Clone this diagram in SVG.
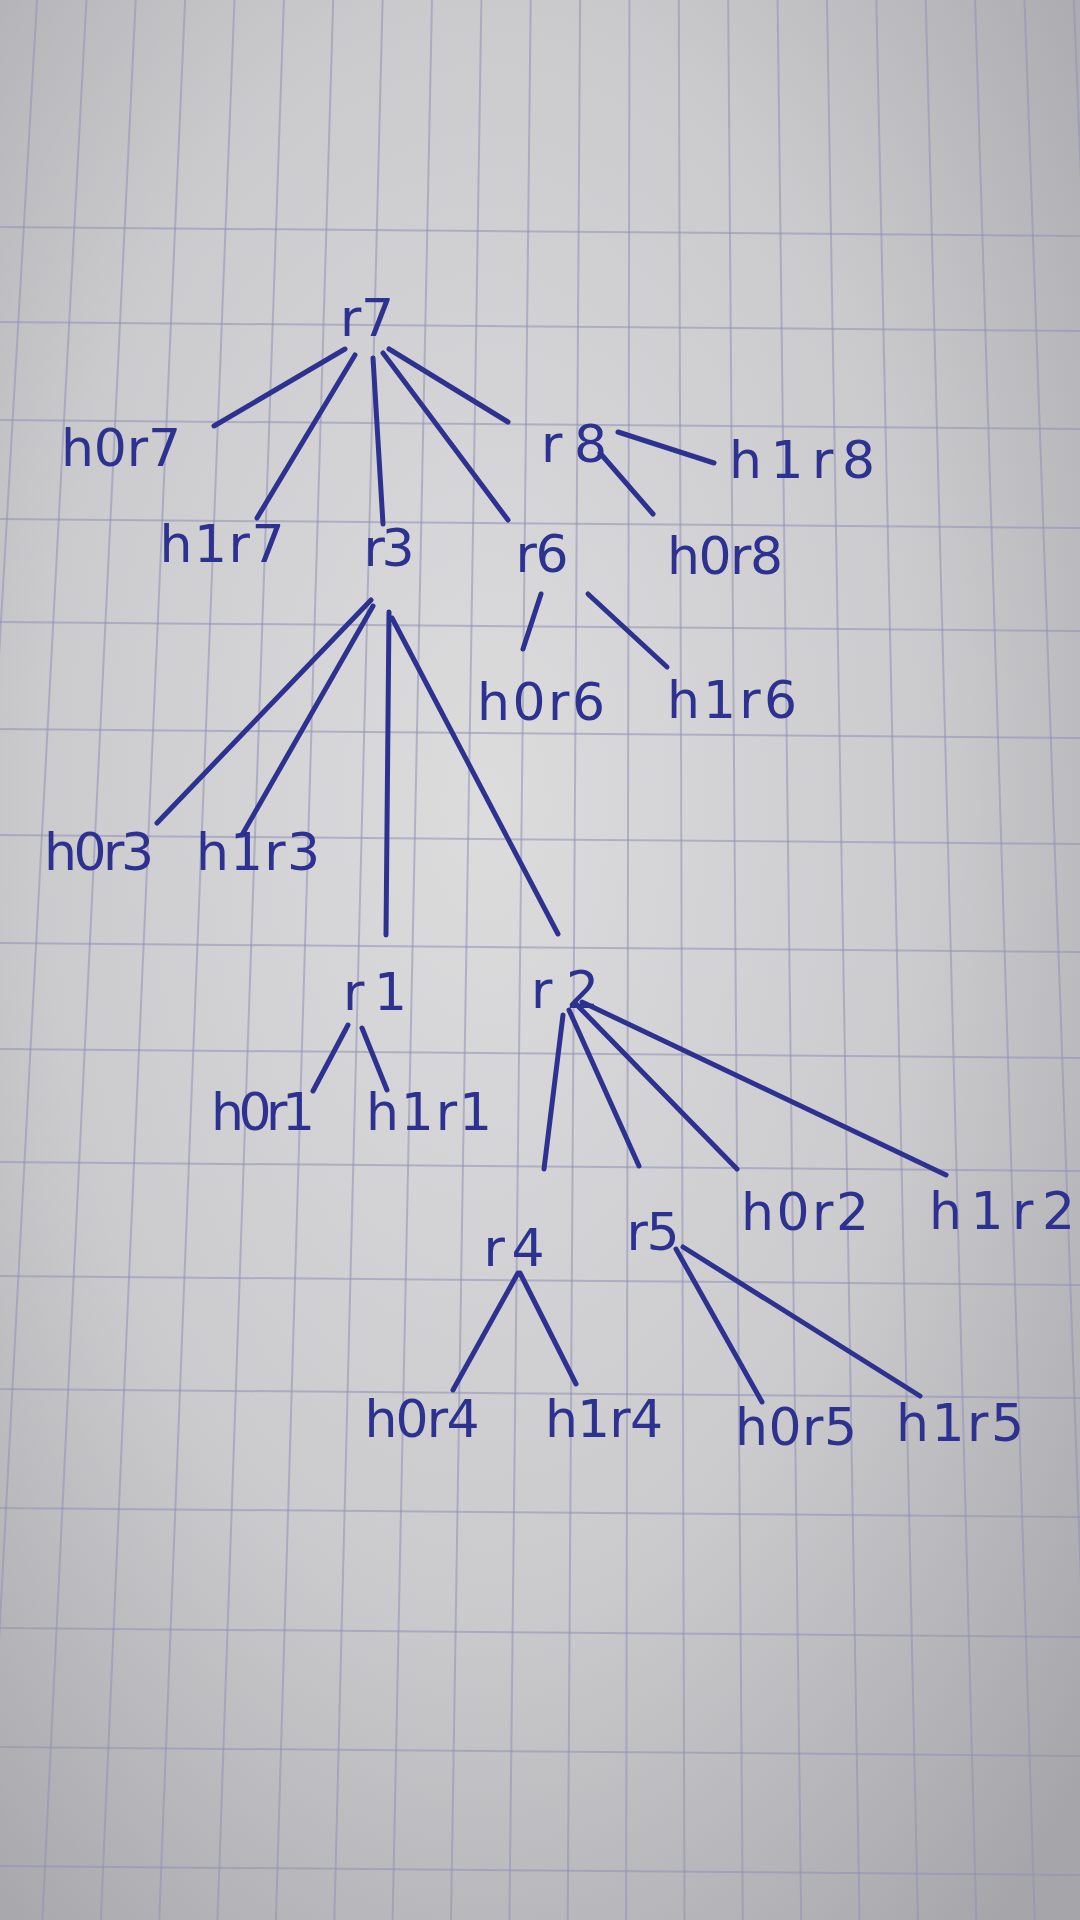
<svg xmlns="http://www.w3.org/2000/svg" width="1080" height="1920" viewBox="0 0 1080 1920">
<defs>
<radialGradient id="paper" cx="0.45" cy="0.42" r="0.75">
<stop offset="0" stop-color="#dcdcdd"/>
<stop offset="0.55" stop-color="#cbcbce"/>
<stop offset="1" stop-color="#a6a6aa"/>
</radialGradient>
<style>
.grid line{stroke:#8f8fb4;stroke-width:2;stroke-opacity:0.55}
.edge{stroke:#2d3290;stroke-width:5;stroke-linecap:round;fill:none}
.lbl{font-family:"DejaVu Sans","Liberation Sans",sans-serif;font-size:52px;fill:#2d3290;text-anchor:middle}
</style>
</defs>
<g id="background">
<rect x="0" y="0" width="1080" height="1920" fill="url(#paper)"/>
<g class="grid">
<line x1="-12.4" y1="0" x2="-132.7" y2="1920"/>
<line x1="37" y1="0" x2="-74.3" y2="1920"/>
<line x1="86.4" y1="0" x2="-15.9" y2="1920"/>
<line x1="135.7" y1="0" x2="42.4" y2="1920"/>
<line x1="185.1" y1="0" x2="100.8" y2="1920"/>
<line x1="234.5" y1="0" x2="159.2" y2="1920"/>
<line x1="283.9" y1="0" x2="217.5" y2="1920"/>
<line x1="333.2" y1="0" x2="275.9" y2="1920"/>
<line x1="382.6" y1="0" x2="334.3" y2="1920"/>
<line x1="432" y1="0" x2="392.6" y2="1920"/>
<line x1="481.4" y1="0" x2="451" y2="1920"/>
<line x1="530.7" y1="0" x2="509.4" y2="1920"/>
<line x1="580.1" y1="0" x2="567.7" y2="1920"/>
<line x1="629.5" y1="0" x2="626.1" y2="1920"/>
<line x1="678.8" y1="0" x2="684.5" y2="1920"/>
<line x1="728.2" y1="0" x2="742.8" y2="1920"/>
<line x1="777.6" y1="0" x2="801.2" y2="1920"/>
<line x1="827" y1="0" x2="859.6" y2="1920"/>
<line x1="876.3" y1="0" x2="917.9" y2="1920"/>
<line x1="925.7" y1="0" x2="976.3" y2="1920"/>
<line x1="975.1" y1="0" x2="1034.7" y2="1920"/>
<line x1="1024.5" y1="0" x2="1093" y2="1920"/>
<line x1="1073.8" y1="0" x2="1151.4" y2="1920"/>
<line x1="0" y1="227" x2="1080" y2="236"/>
<line x1="0" y1="322" x2="1080" y2="331"/>
<line x1="0" y1="420" x2="1080" y2="429"/>
<line x1="0" y1="519" x2="1080" y2="528"/>
<line x1="0" y1="622" x2="1080" y2="631"/>
<line x1="0" y1="729" x2="1080" y2="738"/>
<line x1="0" y1="835" x2="1080" y2="844"/>
<line x1="0" y1="943" x2="1080" y2="952"/>
<line x1="0" y1="1049" x2="1080" y2="1058"/>
<line x1="0" y1="1162" x2="1080" y2="1171"/>
<line x1="0" y1="1276" x2="1080" y2="1285"/>
<line x1="0" y1="1389" x2="1080" y2="1398"/>
<line x1="0" y1="1508" x2="1080" y2="1517"/>
<line x1="0" y1="1628" x2="1080" y2="1637"/>
<line x1="0" y1="1747" x2="1080" y2="1756"/>
<line x1="0" y1="1866" x2="1080" y2="1875"/>
</g>
</g>
<g id="connectors">
<line class="edge" x1="345" y1="349" x2="214" y2="426"/>
<line class="edge" x1="355" y1="355" x2="257" y2="518"/>
<line class="edge" x1="373" y1="358" x2="383" y2="524"/>
<line class="edge" x1="383" y1="353" x2="508" y2="520"/>
<line class="edge" x1="389" y1="349" x2="508" y2="422"/>
<line class="edge" x1="618" y1="432" x2="714" y2="463"/>
<line class="edge" x1="600" y1="453" x2="653" y2="514"/>
<line class="edge" x1="371" y1="600" x2="157" y2="823"/>
<line class="edge" x1="373" y1="606" x2="242" y2="835"/>
<line class="edge" x1="389" y1="612" x2="386" y2="935"/>
<line class="edge" x1="392" y1="618" x2="558" y2="934"/>
<line class="edge" x1="541" y1="594" x2="523" y2="649"/>
<line class="edge" x1="588" y1="594" x2="667" y2="667"/>
<line class="edge" x1="348" y1="1025" x2="313" y2="1091"/>
<line class="edge" x1="362" y1="1028" x2="387" y2="1090"/>
<line class="edge" x1="563" y1="1015" x2="544" y2="1169"/>
<line class="edge" x1="569" y1="1010" x2="639" y2="1166"/>
<line class="edge" x1="576" y1="1004" x2="737" y2="1169"/>
<line class="edge" x1="582" y1="1002" x2="946" y2="1175"/>
<line class="edge" x1="518" y1="1273" x2="453" y2="1390"/>
<line class="edge" x1="520" y1="1273" x2="576" y2="1384"/>
<line class="edge" x1="676" y1="1249" x2="762" y2="1402"/>
<line class="edge" x1="683" y1="1247" x2="920" y2="1396"/>
</g>
<g id="r7"><text class="lbl" x="367" y="336" textLength="54" lengthAdjust="spacing">r7</text></g>
<g id="h0r7"><text class="lbl" x="121" y="466" textLength="120" lengthAdjust="spacing">h0r7</text></g>
<g id="h1r7"><text class="lbl" x="222" y="562" textLength="125" lengthAdjust="spacing">h1r7</text></g>
<g id="r3"><text class="lbl" x="389" y="566" textLength="51" lengthAdjust="spacing">r3</text></g>
<g id="r6"><text class="lbl" x="542" y="572" textLength="53" lengthAdjust="spacing">r6</text></g>
<g id="r8"><text class="lbl" x="574" y="462" textLength="66" lengthAdjust="spacing">r8</text></g>
<g id="h1r8"><text class="lbl" x="802" y="478" textLength="146" lengthAdjust="spacing">h1r8</text></g>
<g id="h0r8"><text class="lbl" x="725" y="574" textLength="116" lengthAdjust="spacing">h0r8</text></g>
<g id="h0r6"><text class="lbl" x="541" y="720" textLength="128" lengthAdjust="spacing">h0r6</text></g>
<g id="h1r6"><text class="lbl" x="732" y="718" textLength="130" lengthAdjust="spacing">h1r6</text></g>
<g id="h0r3"><text class="lbl" x="99" y="870" textLength="110" lengthAdjust="spacing">h0r3</text></g>
<g id="h1r3"><text class="lbl" x="258" y="870" textLength="124" lengthAdjust="spacing">h1r3</text></g>
<g id="r1"><text class="lbl" x="375" y="1010" textLength="64" lengthAdjust="spacing">r1</text></g>
<g id="r2"><text class="lbl" x="565" y="1008" textLength="68" lengthAdjust="spacing">r2</text></g>
<g id="h0r1"><text class="lbl" x="263" y="1130" textLength="104" lengthAdjust="spacing">h0r1</text></g>
<g id="h1r1"><text class="lbl" x="429" y="1130" textLength="126" lengthAdjust="spacing">h1r1</text></g>
<g id="r4"><text class="lbl" x="514" y="1266" textLength="61" lengthAdjust="spacing">r4</text></g>
<g id="r5"><text class="lbl" x="653" y="1250" textLength="53" lengthAdjust="spacing">r5</text></g>
<g id="h0r2"><text class="lbl" x="805" y="1230" textLength="128" lengthAdjust="spacing">h0r2</text></g>
<g id="h1r2"><text class="lbl" x="1002" y="1229" textLength="146" lengthAdjust="spacing">h1r2</text></g>
<g id="h0r4"><text class="lbl" x="422" y="1437" textLength="115" lengthAdjust="spacing">h0r4</text></g>
<g id="h1r4"><text class="lbl" x="604" y="1437" textLength="118" lengthAdjust="spacing">h1r4</text></g>
<g id="h0r5"><text class="lbl" x="796" y="1445" textLength="122" lengthAdjust="spacing">h0r5</text></g>
<g id="h1r5"><text class="lbl" x="960" y="1441" textLength="128" lengthAdjust="spacing">h1r5</text></g>
</svg>
